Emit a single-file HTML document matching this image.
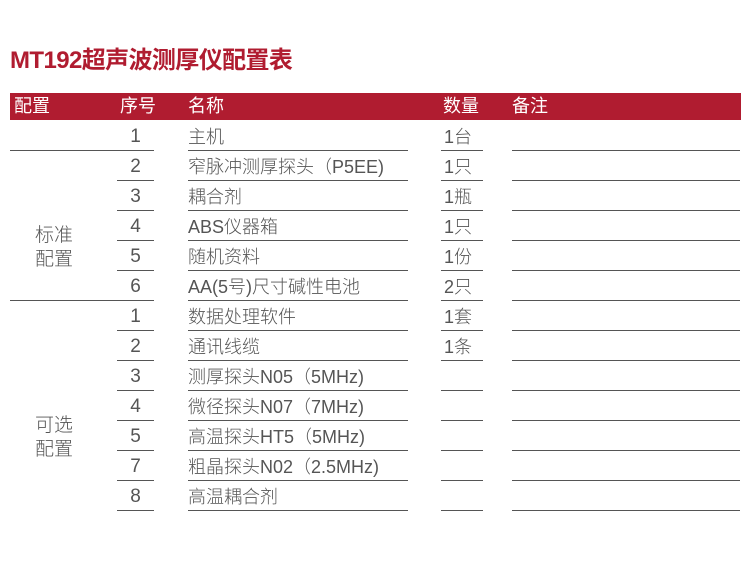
<!DOCTYPE html>
<html><head><meta charset="utf-8"><style>
body{margin:0;width:750px;height:563px;background:#fff;position:relative;overflow:hidden;font-family:"Liberation Sans","Noto Sans CJK SC",sans-serif;}
.t{position:absolute;left:10px;top:40px;font-size:24px;font-weight:bold;color:#b01c30;letter-spacing:-0.6px}
.hb{position:absolute;left:10px;top:93px;width:731px;height:27px;background:#b01c30}
.h{position:absolute;top:94px;color:#fff;font-size:18px;line-height:24px}
.l{position:absolute;height:1px;background:#555}
.x{position:absolute;font-size:18px;color:#555;line-height:24px;white-space:nowrap;font-weight:300}
</style></head><body>
<div class="t">MT192超声波测厚仪配置表</div>
<div class="hb"></div>
<div class="h" style="left:14px">配置</div>
<div class="h" style="left:120px">序号</div>
<div class="h" style="left:188px">名称</div>
<div class="h" style="left:443px">数量</div>
<div class="h" style="left:512px">备注</div>
<div id="rows"></div>
<div class="x" style="left:35px;top:224px;font-size:19px">标准<br>配置</div>
<div class="x" style="left:35px;top:414px;font-size:19px">可选<br>配置</div>
<script>
var d=[["1","主机","1台"],["2","窄脉冲测厚探头（P5EE)","1只"],["3","耦合剂","1瓶"],["4","ABS仪器箱","1只"],["5","随机资料","1份"],["6","AA(5号)尺寸碱性电池","2只"],["1","数据处理软件","1套"],["2","通讯线缆","1条"],["3","测厚探头N05（5MHz)",""],["4","微径探头N07（7MHz)",""],["5","高温探头HT5（5MHz)",""],["7","粗晶探头N02（2.5MHz)",""],["8","高温耦合剂",""]];
var h="";
d.forEach(function(r,i){var y=150+30*i;
h+='<div class="x" style="left:117px;width:37px;text-align:center;top:'+(y-25)+'px;font-size:19px">'+r[0]+'</div>';
h+='<div class="x" style="left:188px;top:'+(y-25)+'px">'+r[1]+'</div>';
h+='<div class="x" style="left:444px;top:'+(y-25)+'px">'+r[2]+'</div>';
var sx=(i==0||i==5)?10:117;
h+='<div class="l" style="left:'+sx+'px;width:'+(154-sx)+'px;top:'+y+'px"></div>';
h+='<div class="l" style="left:188px;width:220px;top:'+y+'px"></div>';
h+='<div class="l" style="left:441px;width:42px;top:'+y+'px"></div>';
h+='<div class="l" style="left:512px;width:228px;top:'+y+'px"></div>';});
document.getElementById("rows").innerHTML=h;
</script>
</body></html>
